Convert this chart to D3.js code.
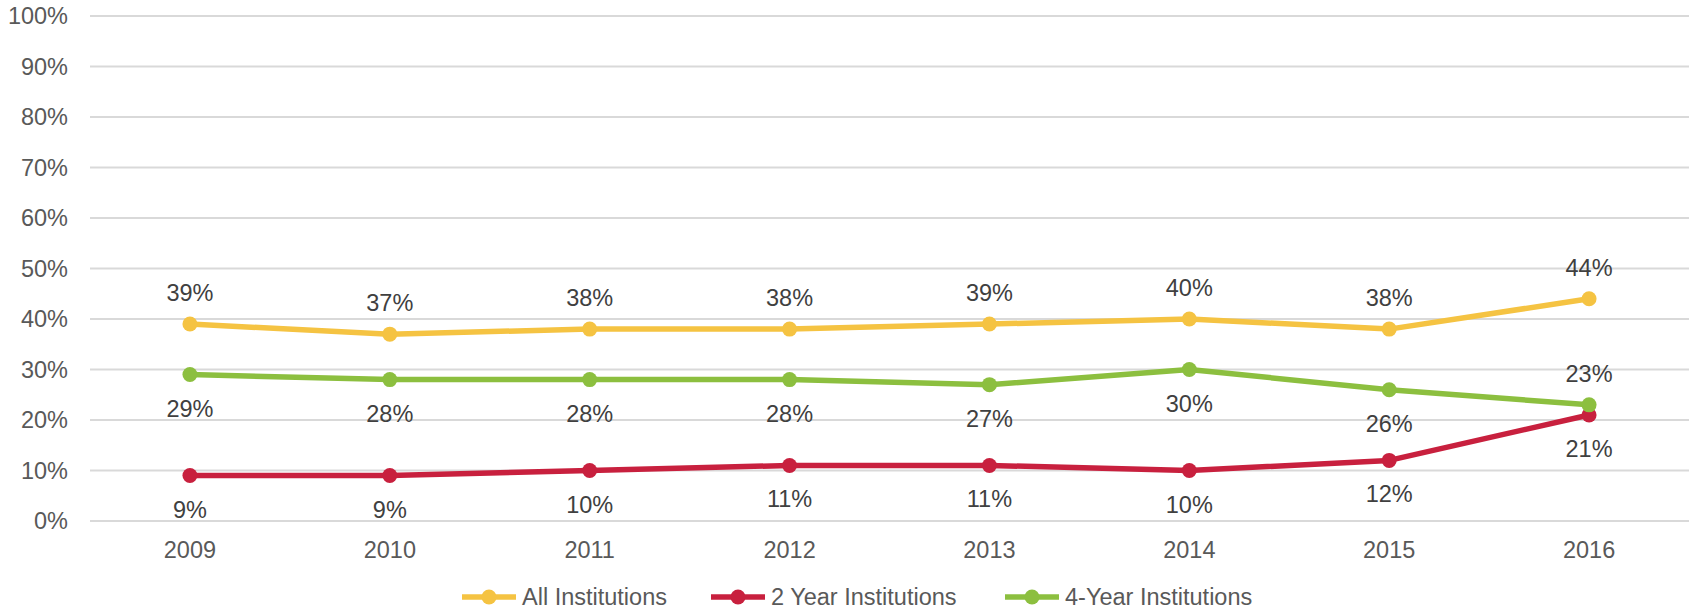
<!DOCTYPE html>
<html>
<head>
<meta charset="utf-8">
<script src="https://cdn.jsdelivr.net/npm/d3@7"></script>
<style>
  html, body { margin: 0; padding: 0; background: #fff; }
  svg { display: block; font-family: "Liberation Sans", Arial, sans-serif; }
</style>
</head>
<body>
<svg id="chart" width="1694" height="612"></svg>
<script>
const years = ["2009", "2010", "2011", "2012", "2013", "2014", "2015", "2016"];
const allInstitutions = [39, 37, 38, 38, 39, 40, 38, 44];
const twoYear = [9, 9, 10, 11, 11, 10, 12, 21];
const fourYear = [29, 28, 28, 28, 27, 30, 26, 23];
const yTicks = [0, 10, 20, 30, 40, 50, 60, 70, 80, 90, 100];
const seriesNames = ["All Institutions", "2 Year Institutions", "4-Year Institutions"];
// label placement per point: "above" or "below"
const allPos = ["above", "above", "above", "above", "above", "above", "above", "above"];
const twoPos = ["below", "below", "below", "below", "below", "below", "below", "below"];
const fourPos = ["below", "below", "below", "below", "below", "below", "below", "above"];

(function () {
const series = [
  { name: seriesNames[0], values: allInstitutions, pos: allPos, color: "#F5C342" },
  { name: seriesNames[1], values: twoYear, pos: twoPos, color: "#C8203E" },
  { name: seriesNames[2], values: fourYear, pos: fourPos, color: "#8CBF3F" }
];

const svg = d3.select("#chart");
const pL = 90, pR = 1689, pT = 16, pB = 521;
const fs = 23.5;

const x = d3.scaleBand().domain(years).range([pL, pR]).padding(0);
const y = d3.scaleLinear().domain([0, 100]).range([pB, pT]);
const cx = d => x(d) + x.bandwidth() / 2;

// gridlines
svg.append("g").selectAll("line").data(yTicks).join("line")
  .attr("x1", pL).attr("x2", pR)
  .attr("y1", d => y(d)).attr("y2", d => y(d))
  .attr("stroke", "#d9d9d9").attr("stroke-width", 2);

// y axis labels
svg.append("g").selectAll("text").data(yTicks).join("text")
  .attr("x", 68).attr("y", d => y(d) + 8)
  .attr("text-anchor", "end")
  .attr("font-size", fs).attr("fill", "#595959")
  .text(d => d + "%");

// x axis labels
svg.append("g").selectAll("text").data(years).join("text")
  .attr("x", d => cx(d)).attr("y", 558)
  .attr("text-anchor", "middle")
  .attr("font-size", fs).attr("fill", "#595959")
  .text(d => d);

const line = d3.line().x((d, i) => cx(years[i])).y(d => y(d));

series.forEach(s => {
  const g = svg.append("g");
  g.append("path").datum(s.values)
    .attr("d", line).attr("fill", "none")
    .attr("stroke", s.color).attr("stroke-width", 5.5)
    .attr("stroke-linejoin", "round");
  g.selectAll("circle").data(s.values).join("circle")
    .attr("cx", (d, i) => cx(years[i])).attr("cy", d => y(d))
    .attr("r", 7.5).attr("fill", s.color);
});

// data labels
series.forEach(s => {
  svg.append("g").selectAll("text").data(s.values).join("text")
    .attr("x", (d, i) => cx(years[i]))
    .attr("y", (d, i) => s.pos[i] === "above" ? y(d) - 23 : y(d) + 42)
    .attr("text-anchor", "middle")
    .attr("font-size", fs).attr("fill", "#404040")
    .text(d => d + "%");
});

// legend
const legendX = [462, 711, 1005];
const legendY = 597;
series.forEach((s, i) => {
  const g = svg.append("g").attr("transform", `translate(${legendX[i]},${legendY})`);
  g.append("line").attr("x1", 0).attr("x2", 54).attr("y1", 0).attr("y2", 0)
    .attr("stroke", s.color).attr("stroke-width", 5.5);
  g.append("circle").attr("cx", 27).attr("cy", 0).attr("r", 7.5).attr("fill", s.color);
  g.append("text").attr("x", 60).attr("y", 8)
    .attr("font-size", fs).attr("fill", "#595959")
    .text(s.name);
});
})();
</script>
</body>
</html>
